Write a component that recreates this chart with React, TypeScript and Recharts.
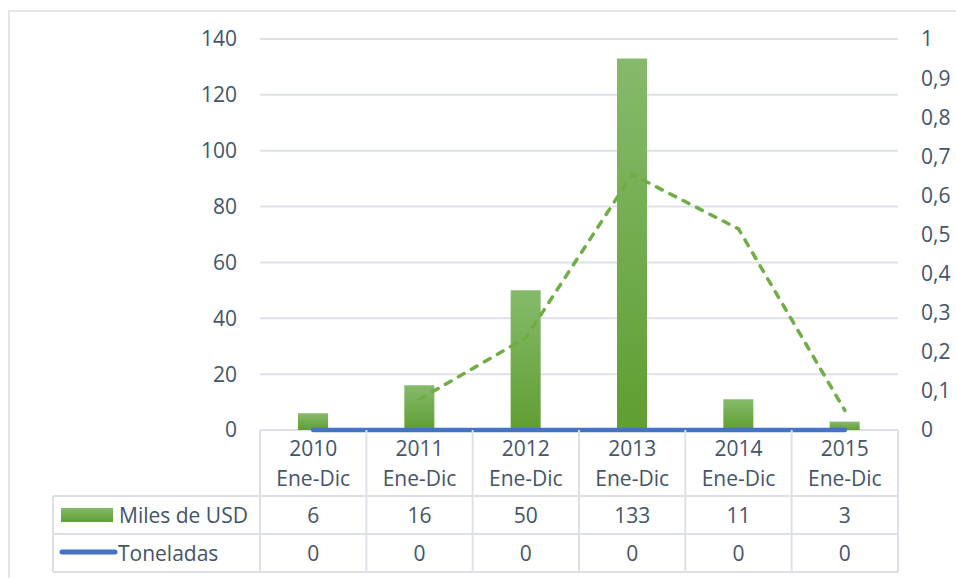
import {
  ComposedChart,
  Bar,
  Line,
  XAxis,
  YAxis,
  CartesianGrid,
} from 'recharts';

// ── data ────────────────────────────────────────────────────────────────
const YEARS = ['2010', '2011', '2012', '2013', '2014', '2015'];
const PERIODS = ['Ene-Dic', 'Ene-Dic', 'Ene-Dic', 'Ene-Dic', 'Ene-Dic', 'Ene-Dic'];
const MILES_USD = [6, 16, 50, 133, 11, 3];
const TONELADAS = [0, 0, 0, 0, 0, 0];
// dashed trend (left axis)
const TREND = [null, 11, 33, 91.5, 72, 7];
const LEFT_TICKS = [0, 20, 40, 60, 80, 100, 120, 140];
const RIGHT_TICKS = [0, 0.1, 0.2, 0.3, 0.4, 0.5, 0.6, 0.7, 0.8, 0.9, 1];

const rows = YEARS.map((y, i) => ({
  label: y,
  usd: MILES_USD[i],
  ton: TONELADAS[i],
  trend: TREND[i],
}));

// ── layout ──────────────────────────────────────────────────────────────
const W = 948;
const H = 570;
const PLOT_LEFT = 252;
const PLOT_RIGHT = 890;
const PLOT_TOP = 31;
const PLOT_BOTTOM = 422;
const BAND = (PLOT_RIGHT - PLOT_LEFT) / YEARS.length;
const LEGEND_LEFT = 45;

const TEXT = '#44546A';
const GRID = '#dde1e7';
const GREEN = '#70ad47';
const BLUE = '#4472c4';
const FONT = '"Open Sans", sans-serif';

// x-axis tick = one column of the data table under the plot
function TableTick(props: any) {
  const { x, y, payload } = props;
  const i: number = payload?.index ?? props.index ?? 0;
  const half = BAND / 2;
  const last = i === YEARS.length - 1;
  const rowsY = [66, 104, 142]; // top line is the grid's 0 line
  return (
    <g>
      {rowsY.map((dy) => (
        <line key={dy} x1={x - half} x2={x + half} y1={y + dy} y2={y + dy} stroke={GRID} strokeWidth={2} />
      ))}
      <line x1={x - half} x2={x - half} y1={y} y2={y + 142} stroke={GRID} strokeWidth={2} />
      {last && <line x1={x + half} x2={x + half} y1={y} y2={y + 142} stroke={GRID} strokeWidth={2} />}
      <text x={x} y={y + 26} textAnchor="middle" fill={TEXT} fontSize={21} fontFamily={FONT}>{YEARS[i]}</text>
      <text x={x} y={y + 56} textAnchor="middle" fill={TEXT} fontSize={21} fontFamily={FONT}>{PERIODS[i]}</text>
      <text x={x} y={y + 93} textAnchor="middle" fill={TEXT} fontSize={21} fontFamily={FONT}>{MILES_USD[i]}</text>
      <text x={x} y={y + 131} textAnchor="middle" fill={TEXT} fontSize={21} fontFamily={FONT}>{TONELADAS[i]}</text>
      {i === 0 && (
        <g>
          {[66, 104, 142].map((dy) => (
            <line key={dy} x1={LEGEND_LEFT} x2={x - half} y1={y + dy} y2={y + dy} stroke={GRID} strokeWidth={2} />
          ))}
          <line x1={LEGEND_LEFT} x2={LEGEND_LEFT} y1={y + 66} y2={y + 142} stroke={GRID} strokeWidth={2} />
          <rect x={LEGEND_LEFT + 8} y={y + 78} width={52} height={14} fill="url(#usdGrad)" />
          <text x={LEGEND_LEFT + 66} y={y + 93} fill={TEXT} fontSize={21} fontFamily={FONT}>Miles de USD</text>
          <line x1={LEGEND_LEFT + 9} x2={LEGEND_LEFT + 62} y1={y + 122} y2={y + 122} stroke={BLUE} strokeWidth={5} strokeLinecap="round" />
          <text x={LEGEND_LEFT + 65} y={y + 131} fill={TEXT} fontSize={21} fontFamily={FONT}>Toneladas</text>
        </g>
      )}
    </g>
  );
}

const commaFmt = (v: number) => String(v).replace('.', ',');

export default function App() {
  return (
    <div style={{ position: 'fixed', left: 0, top: 0, width: 956, height: 578, overflow: 'hidden', background: '#fff' }}>
      <div
        style={{
          position: 'absolute',
          left: 8,
          top: 10,
          width: W,
          height: H,
          boxSizing: 'border-box',
          borderTop: '2px solid #e2e6ec',
          borderLeft: '2px solid #e2e6ec',
        }}
      />
      <div style={{ position: 'absolute', left: 8, top: 8 }}>
        <ComposedChart
          width={W}
          height={H}
          data={rows}
          margin={{ top: PLOT_TOP, right: 0, bottom: 0, left: 0 }}
          style={{ fontFamily: FONT }}
        >
          <defs>
            <linearGradient id="usdGrad" x1="0" y1="0" x2="0" y2="1">
              <stop offset="0%" stopColor="#86ba6b" />
              <stop offset="100%" stopColor="#5f9e32" />
            </linearGradient>
          </defs>
          <CartesianGrid vertical={false} stroke={GRID} strokeWidth={2} yAxisId="left" />
          <XAxis
            dataKey="label"
            height={H - PLOT_BOTTOM}
            axisLine={false}
            tickLine={false}
            tickSize={0}
            tickMargin={0}
            interval={0}
            tick={<TableTick />}
          />
          <YAxis
            yAxisId="left"
            width={PLOT_LEFT}
            domain={[0, 140]}
            ticks={LEFT_TICKS}
            axisLine={false}
            tickLine={false}
            tickSize={0}
            tickMargin={23}
            tick={{ fill: TEXT, fontSize: 21, fontFamily: FONT }}
          />
          <YAxis
            yAxisId="right"
            orientation="right"
            width={W - PLOT_RIGHT}
            domain={[0, 1]}
            ticks={RIGHT_TICKS}
            tickFormatter={commaFmt}
            axisLine={false}
            tickLine={false}
            tickSize={0}
            tickMargin={23}
            tick={{ fill: TEXT, fontSize: 21, fontFamily: FONT, textAnchor: 'start' }}
          />
          <Bar yAxisId="left" dataKey="usd" barSize={30} fill="url(#usdGrad)" isAnimationActive={false} />
          <Line
            yAxisId="left"
            dataKey="trend"
            stroke={GREEN}
            strokeWidth={3.5}
            strokeDasharray="6.5 8.5"
            strokeLinecap="round"
            dot={false}
            connectNulls={false}
            isAnimationActive={false}
          />
          <Line
            yAxisId="right"
            dataKey="ton"
            stroke={BLUE}
            strokeWidth={4.5}
            strokeLinecap="round"
            dot={false}
            isAnimationActive={false}
          />
        </ComposedChart>
      </div>
    </div>
  );
}
